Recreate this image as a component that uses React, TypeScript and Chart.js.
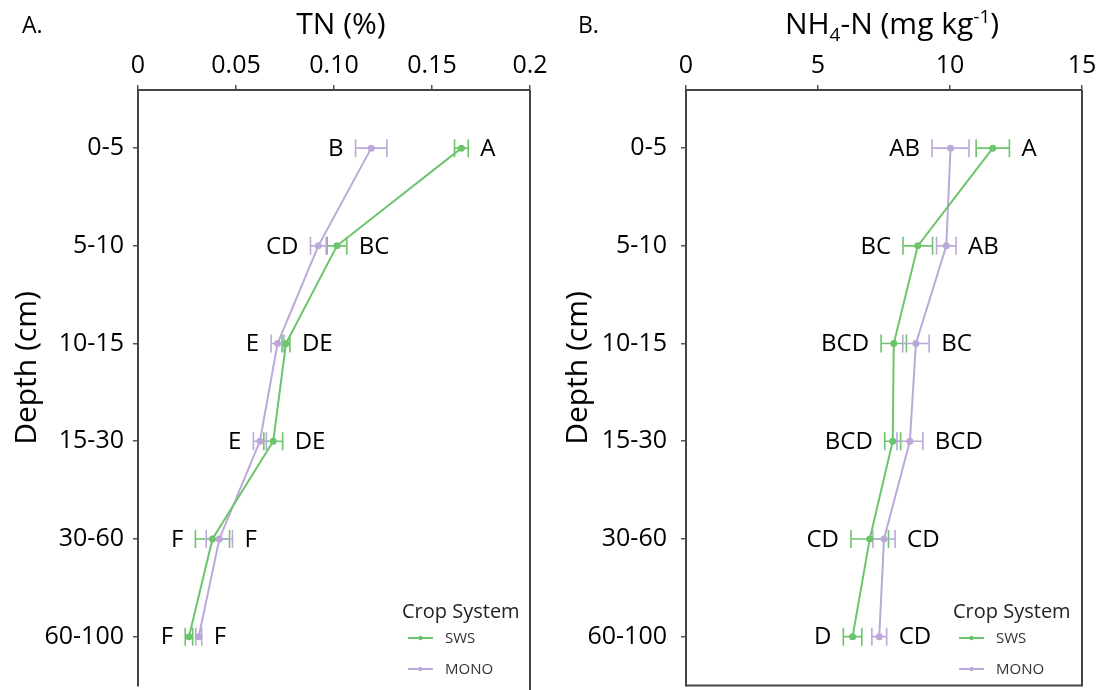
import React, { useEffect, useRef } from 'react';
import { Chart, registerables } from 'chart.js';

Chart.register(...registerables);

// ---------- data ----------
const depths = ['0-5', '5-10', '10-15', '15-30', '30-60', '60-100'];
const seriesNames = ['SWS', 'MONO'];

const tnTicks = [0, 0.05, 0.1, 0.15, 0.2];
const tnTickLabels = ['0', '0.05', '0.10', '0.15', '0.2'];
const tnSWS = [0.165, 0.1015, 0.0755, 0.069, 0.038, 0.026];
const tnSWSErr = [0.0035, 0.005, 0.002, 0.0048, 0.0087, 0.0019];
const tnMONO = [0.119, 0.092, 0.0712, 0.0622, 0.0415, 0.031];
const tnMONOErr = [0.008, 0.004, 0.0033, 0.0033, 0.0067, 0.0015];
const tnSWSLetters = ['A', 'BC', 'DE', 'DE', 'F', 'F'];
const tnMONOLetters = ['B', 'CD', 'E', 'E', 'F', 'F'];

const nhTicks = [0, 5, 10, 15];
const nhTickLabels = ['0', '5', '10', '15'];
const nhSWS = [11.62, 8.78, 7.87, 7.83, 6.96, 6.31];
const nhSWSErr = [0.63, 0.56, 0.48, 0.3, 0.71, 0.35];
const nhMONO = [10.02, 9.86, 8.71, 8.48, 7.5, 7.32];
const nhMONOErr = [0.7, 0.37, 0.5, 0.49, 0.42, 0.28];
const nhSWSLetters = ['A', 'BC', 'BCD', 'BCD', 'CD', 'D'];
const nhMONOLetters = ['AB', 'AB', 'BC', 'BCD', 'CD', 'CD'];

// ---------- styles ----------
const FONT = "'Open Sans', 'Noto Sans', sans-serif";
const GREEN = '#6cc46c';
const PURPLE = '#bba9da';
const AXIS = '#444444';

type Seg = { t: string; s: number; dy: number };

type PanelCfg = {
  panelLetter: string;
  panelLetterX: number;
  title: Seg[];
  xMin: number;
  xMax: number;
  xTicks: number[];
  xTickLabels: string[];
  sws: number[];
  swsErr: number[];
  mono: number[];
  monoErr: number[];
  swsLetters: string[];
  monoLetters: string[];
  yWidth: number;
  padRight: number;
  yTickPad: number;
  bottomBorder: boolean;
};

function makeChart(canvas: HTMLCanvasElement, cfg: PanelCfg) {
  const colors = [GREEN, PURPLE];
  const vals = [cfg.sws, cfg.mono];
  const errs = [cfg.swsErr, cfg.monoErr];
  const letters = [cfg.swsLetters, cfg.monoLetters];

  const decor = {
    id: 'decor',
    beforeDatasetsDraw(chart: any) {
      const ctx = chart.ctx as CanvasRenderingContext2D;
      const xs = chart.scales.x;
      const ys = chart.scales.y;
      ctx.save();
      for (let d = 0; d < 2; d++) {
        ctx.strokeStyle = colors[d];
        ctx.lineWidth = 1.6;
        for (let i = 0; i < depths.length; i++) {
          const y = ys.getPixelForValue(i);
          const x1 = xs.getPixelForValue(vals[d][i] - errs[d][i]);
          const x2 = xs.getPixelForValue(vals[d][i] + errs[d][i]);
          ctx.beginPath();
          ctx.moveTo(x1, y);
          ctx.lineTo(x2, y);
          ctx.moveTo(x1, y - 9);
          ctx.lineTo(x1, y + 9);
          ctx.moveTo(x2, y - 9);
          ctx.lineTo(x2, y + 9);
          ctx.stroke();
        }
      }
      ctx.restore();
    },
    afterDraw(chart: any) {
      const ctx = chart.ctx as CanvasRenderingContext2D;
      const xs = chart.scales.x;
      const ys = chart.scales.y;
      const area = chart.chartArea;
      ctx.save();

      // letters
      ctx.font = `24px ${FONT}`;
      ctx.fillStyle = '#000';
      ctx.textBaseline = 'middle';
      for (let i = 0; i < depths.length; i++) {
        const y = ys.getPixelForValue(i) + 1;
        const leftIdx = vals[0][i] <= vals[1][i] ? 0 : 1;
        const rightIdx = 1 - leftIdx;
        const lo = Math.min(vals[0][i] - errs[0][i], vals[1][i] - errs[1][i]);
        const hi = Math.max(vals[0][i] + errs[0][i], vals[1][i] + errs[1][i]);
        ctx.textAlign = 'right';
        ctx.fillText(letters[leftIdx][i], xs.getPixelForValue(lo) - 12, y);
        ctx.textAlign = 'left';
        ctx.fillText(letters[rightIdx][i], xs.getPixelForValue(hi) + 12, y);
      }

      // frame (right, bottom)
      ctx.strokeStyle = AXIS;
      ctx.lineWidth = 2;
      ctx.beginPath();
      ctx.moveTo(area.right, area.top);
      ctx.lineTo(area.right, cfg.bottomBorder ? area.bottom : chart.height);
      if (cfg.bottomBorder) {
        ctx.lineTo(area.left, area.bottom);
      }
      ctx.stroke();

      // panel letter
      ctx.fillStyle = '#000';
      ctx.textAlign = 'left';
      ctx.textBaseline = 'alphabetic';
      ctx.font = `23px ${FONT}`;
      ctx.fillText(cfg.panelLetter, cfg.panelLetterX, 33);

      // title with sub/superscripts
      let total = 0;
      for (const sg of cfg.title) {
        ctx.font = `${sg.s}px ${FONT}`;
        total += ctx.measureText(sg.t).width;
      }
      let tx = 341 - total / 2;
      for (const sg of cfg.title) {
        ctx.font = `${sg.s}px ${FONT}`;
        ctx.fillText(sg.t, tx, 34 + sg.dy);
        tx += ctx.measureText(sg.t).width;
      }

      // y title
      ctx.save();
      ctx.translate(27, 368);
      ctx.rotate(-Math.PI / 2);
      ctx.textAlign = 'center';
      ctx.textBaseline = 'middle';
      ctx.font = `30px ${FONT}`;
      ctx.fillText('Depth (cm)', 0, 0);
      ctx.restore();

      // legend
      ctx.textAlign = 'left';
      ctx.textBaseline = 'alphabetic';
      ctx.font = `20px ${FONT}`;
      ctx.fillStyle = '#222';
      ctx.fillText('Crop System', 402, 618);
      const ly = [638, 669];
      for (let d = 0; d < 2; d++) {
        ctx.strokeStyle = colors[d];
        ctx.lineWidth = 2;
        ctx.beginPath();
        ctx.moveTo(408, ly[d]);
        ctx.lineTo(433, ly[d]);
        ctx.stroke();
        ctx.fillStyle = colors[d];
        ctx.beginPath();
        ctx.arc(420.5, ly[d], 2.2, 0, Math.PI * 2);
        ctx.fill();
        ctx.fillStyle = '#333';
        ctx.font = `15px ${FONT}`;
        ctx.textBaseline = 'middle';
        ctx.fillText(seriesNames[d], 445, ly[d] + 1);
      }
      ctx.restore();
    },
  };

  const gridCfg = {
    display: true,
    drawOnChartArea: false,
    drawTicks: true,
    tickLength: 5,
    color: '#555',
    lineWidth: 1.5,
  };

  return new Chart(canvas, {
    type: 'scatter',
    data: {
      datasets: [0, 1].map((d) => ({
        label: seriesNames[d],
        data: vals[d].map((v, i) => ({ x: v, y: i })),
        borderColor: colors[d],
        backgroundColor: colors[d],
        borderWidth: 2,
        pointRadius: 2.5,
        pointHoverRadius: 2.5,
        showLine: true,
        tension: 0,
      })),
    },
    options: {
      animation: false,
      responsive: false,
      devicePixelRatio: 1,
      layout: { padding: { top: 0, left: 0, right: cfg.padRight, bottom: 0 } },
      plugins: { legend: { display: false }, tooltip: { enabled: false } },
      scales: {
        x: {
          type: 'linear',
          position: 'top',
          min: cfg.xMin,
          max: cfg.xMax,
          afterBuildTicks: (s: any) => {
            s.ticks = cfg.xTicks.map((v) => ({ value: v }));
          },
          afterFit: (s: any) => {
            s.height = 90;
            s.paddingLeft = 0;
            s.paddingRight = 0;
            s.paddingTop = 0;
            s.paddingBottom = 0;
          },
          ticks: {
            autoSkip: false,
            maxRotation: 0,
            padding: 4,
            color: '#000',
            font: { family: FONT, size: 25 },
            callback: (_v: any, i: number) => cfg.xTickLabels[i],
          },
          grid: gridCfg,
          border: { display: true, color: AXIS, width: 2 },
        },
        y: {
          type: 'linear',
          reverse: true,
          min: -0.595,
          max: 5.5,
          afterBuildTicks: (s: any) => {
            s.ticks = depths.map((_, i) => ({ value: i }));
          },
          afterFit: (s: any) => {
            s.width = cfg.yWidth;
            s.paddingLeft = 0;
            s.paddingRight = 0;
            s.paddingTop = 0;
            s.paddingBottom = 0;
          },
          ticks: {
            autoSkip: false,
            padding: cfg.yTickPad,
            color: '#000',
            font: { family: FONT, size: 25 },
            callback: (_v: any, i: number) => depths[i],
          },
          grid: gridCfg,
          border: { display: true, color: AXIS, width: 2 },
        },
      },
    },
    plugins: [decor],
  } as any);
}

const panelA: PanelCfg = {
  panelLetter: 'A.',
  panelLetterX: 22,
  title: [{ t: 'TN (%)', s: 30, dy: 0 }],
  xMin: 0,
  xMax: 0.2,
  xTicks: tnTicks,
  xTickLabels: tnTickLabels,
  sws: tnSWS,
  swsErr: tnSWSErr,
  mono: tnMONO,
  monoErr: tnMONOErr,
  swsLetters: tnSWSLetters,
  monoLetters: tnMONOLetters,
  yWidth: 138,
  padRight: 21,
  yTickPad: 9,
  bottomBorder: false,
};

const panelB: PanelCfg = {
  panelLetter: 'B.',
  panelLetterX: 27,
  title: [
    { t: 'NH', s: 30, dy: 0 },
    { t: '4', s: 19, dy: 7 },
    { t: '-N (mg kg', s: 30, dy: 0 },
    { t: '-1', s: 19, dy: -11 },
    { t: ')', s: 30, dy: 0 },
  ],
  xMin: 0,
  xMax: 15,
  xTicks: nhTicks,
  xTickLabels: nhTickLabels,
  sws: nhSWS,
  swsErr: nhSWSErr,
  mono: nhMONO,
  monoErr: nhMONOErr,
  swsLetters: nhSWSLetters,
  monoLetters: nhMONOLetters,
  yWidth: 135,
  padRight: 20,
  yTickPad: 14,
  bottomBorder: true,
};

function Panel({ cfg }: { cfg: PanelCfg }) {
  const ref = useRef<HTMLCanvasElement | null>(null);
  useEffect(() => {
    if (!ref.current) return;
    const chart = makeChart(ref.current, cfg);
    return () => chart.destroy();
  }, [cfg]);
  return <canvas ref={ref} width={551} height={690} style={{ display: 'block', width: 551, height: 690 }} />;
}

export default function App() {
  return (
    <div
      style={{
        position: 'fixed',
        left: 0,
        top: 0,
        width: 1102,
        height: 690,
        display: 'flex',
        background: '#fff',
        overflow: 'hidden',
      }}
    >
      <Panel cfg={panelA} />
      <Panel cfg={panelB} />
    </div>
  );
}
